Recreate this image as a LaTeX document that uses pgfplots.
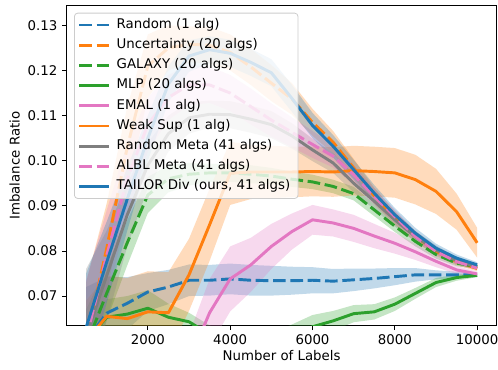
\documentclass[border=0pt]{standalone}
\usepackage{fontspec}
\setmainfont{DejaVu Sans}
\usepackage{pgfplots}
\usepackage{pgfplotstable}
\pgfplotsset{compat=1.18}
\usepgfplotslibrary{fillbetween}

\definecolor{tabblue}{HTML}{1F77B4}
\definecolor{taborange}{HTML}{FF7F0E}
\definecolor{tabgreen}{HTML}{2CA02C}
\definecolor{tabpink}{HTML}{E377C2}
\definecolor{tabgray}{HTML}{7F7F7F}

% mean (m) and standard deviation (s) of the imbalance ratio per label budget
\pgfplotstableread{
x m s
500 0.0600 0.012
1000 0.0662 0.008
1500 0.0684 0.0058
2000 0.0709 0.0042
2500 0.0720 0.0038
3000 0.0735 0.0035
3500 0.0735 0.0034
4000 0.0738 0.0034
4500 0.0735 0.0034
5000 0.0734 0.0033
5500 0.0734 0.0031
6000 0.0735 0.0029
6500 0.0733 0.0027
7000 0.0736 0.0025
7500 0.0739 0.0022
8000 0.0743 0.0019
8500 0.0747 0.0015
9000 0.0747 0.0010
9500 0.0747 0.0007
10000 0.0747 0.0005
}\tRandom

\pgfplotstableread{
x m s
500 0.0600 0.013
1000 0.0805 0.010
1500 0.1030 0.009
2000 0.1210 0.007
2500 0.1250 0.005
3000 0.1258 0.004
3500 0.1256 0.004
4000 0.1240 0.004
4500 0.1208 0.004
5000 0.1172 0.004
5500 0.1137 0.0035
6000 0.1085 0.003
6500 0.1041 0.0025
7000 0.0984 0.002
7500 0.0922 0.0018
8000 0.0873 0.0015
8500 0.0832 0.0012
9000 0.0799 0.0010
9500 0.0776 0.0008
10000 0.0761 0.0006
}\tUncert

\pgfplotstableread{
x m s
500 0.0590 0.008
1000 0.0706 0.006
1500 0.0818 0.005
2000 0.0924 0.004
2500 0.0960 0.003
3000 0.0970 0.0025
3500 0.0973 0.002
4000 0.0973 0.002
4500 0.0970 0.002
5000 0.0966 0.0018
5500 0.0959 0.0017
6000 0.0953 0.0016
6500 0.0943 0.0015
7000 0.0927 0.0015
7500 0.0891 0.0014
8000 0.0855 0.0013
8500 0.0821 0.0011
9000 0.0792 0.0009
9500 0.0773 0.0007
10000 0.0765 0.0005
}\tGalaxy

\pgfplotstableread{
x m s
500 0.0600 0.004
1000 0.0653 0.004
1500 0.0660 0.004
2000 0.0673 0.004
2500 0.0653 0.003
3000 0.0643 0.002
3500 0.0615 0.002
4000 0.0600 0.002
4500 0.0595 0.002
5000 0.0598 0.002
5500 0.0612 0.0025
6000 0.0632 0.0026
6500 0.0645 0.0022
7000 0.0661 0.0019
7500 0.0665 0.0017
8000 0.0682 0.0015
8500 0.0706 0.0012
9000 0.0730 0.0010
9500 0.0741 0.0007
10000 0.0746 0.0004
}\tMLP

\pgfplotstableread{
x m s
500 0.0500 0.005
1000 0.0500 0.005
1500 0.0500 0.005
2000 0.0500 0.005
2500 0.0510 0.005
3000 0.0555 0.006
3500 0.0663 0.0075
4000 0.0738 0.0072
4500 0.0769 0.006
5000 0.0810 0.005
5500 0.0843 0.004
6000 0.0869 0.0033
6500 0.0862 0.003
7000 0.0850 0.003
7500 0.0833 0.0027
8000 0.0817 0.0023
8500 0.0798 0.0018
9000 0.0777 0.0013
9500 0.0758 0.0009
10000 0.0749 0.0005
}\tEMAL

\pgfplotstableread{
x m s
500 0.0600 0.009
1000 0.0655 0.009
1500 0.0650 0.009
2000 0.0665 0.009
2500 0.0663 0.009
3000 0.0747 0.008
3500 0.0858 0.008
4000 0.0972 0.007
4500 0.0975 0.006
5000 0.0975 0.0058
5500 0.0975 0.0056
6000 0.0976 0.0055
6500 0.0975 0.0055
7000 0.0978 0.0055
7500 0.0976 0.0055
8000 0.0973 0.0055
8500 0.0958 0.0055
9000 0.0932 0.005
9500 0.0887 0.004
10000 0.0818 0.0033
}\tWeak

\pgfplotstableread{
x m s
500 0.0610 0.015
1000 0.0745 0.010
1500 0.0880 0.007
2000 0.0990 0.005
2500 0.1060 0.004
3000 0.1095 0.0035
3500 0.1103 0.003
4000 0.1102 0.003
4500 0.1092 0.003
5000 0.1080 0.003
5500 0.1055 0.0028
6000 0.1024 0.0025
6500 0.0995 0.0022
7000 0.0950 0.0020
7500 0.0910 0.0018
8000 0.0869 0.0015
8500 0.0832 0.0012
9000 0.0802 0.0010
9500 0.0778 0.0008
10000 0.0765 0.0006
}\tRMeta

\pgfplotstableread{
x m s
500 0.0605 0.013
1000 0.0790 0.010
1500 0.0960 0.008
2000 0.1080 0.006
2500 0.1140 0.005
3000 0.1168 0.0045
3500 0.1168 0.004
4000 0.1150 0.004
4500 0.1120 0.004
5000 0.1090 0.0037
5500 0.1063 0.0033
6000 0.1036 0.003
6500 0.1010 0.0025
7000 0.0969 0.0022
7500 0.0921 0.0018
8000 0.0876 0.0015
8500 0.0832 0.0012
9000 0.0799 0.0009
9500 0.0776 0.0007
10000 0.0762 0.0005
}\tALBL

\pgfplotstableread{
x m s
500 0.0630 0.012
1000 0.0775 0.009
1500 0.0915 0.007
2000 0.1050 0.005
2500 0.1170 0.004
3000 0.1232 0.0035
3500 0.1246 0.003
4000 0.1238 0.003
4500 0.1218 0.003
5000 0.1195 0.003
5500 0.1138 0.003
6000 0.1078 0.0028
6500 0.1032 0.0025
7000 0.0980 0.0022
7500 0.0928 0.0018
8000 0.0880 0.0015
8500 0.0839 0.0012
9000 0.0806 0.0010
9500 0.0784 0.0008
10000 0.0769 0.0006
}\tTailor

% shaded +/- one standard deviation band
\newcommand{\band}[3]{%
  \addplot[draw=none, forget plot, name path=#2hi] table[x=x, y expr=\thisrow{m}+\thisrow{s}] {#1};
  \addplot[draw=none, forget plot, name path=#2lo] table[x=x, y expr=\thisrow{m}-\thisrow{s}] {#1};
  \addplot[fill=#3, fill opacity=0.28, draw=none, forget plot] fill between[of=#2hi and #2lo];
}
% legend text set in a fixed-width, left-aligned box
\newcommand{\lgtext}[1]{\makebox[133.5pt][l]{#1}}

\begin{document}
\begin{tikzpicture}
\begin{axis}[
  scale only axis,
  width=322.65pt, height=240.15pt,
  xmin=25, xmax=10475,
  ymin=0.06342, ymax=0.13439,
  xtick={2000,4000,6000,8000,10000},
  ytick={0.07,0.08,0.09,0.10,0.11,0.12,0.13},
  scaled y ticks=false,
  scaled x ticks=false,
  xticklabel style={/pgf/number format/1000 sep={}},
  yticklabel style={/pgf/number format/.cd, fixed, fixed zerofill, precision=2},
  /pgf/number format/assume math mode=true,
  tick pos=left,
  tick align=outside,
  major tick length=3.3pt,
  every tick/.style={black, line width=0.6pt},
  axis line style={black, line width=0.6pt},
  tick label style={font=\fontsize{10}{12}\selectfont},
  xlabel={Number of Labels},
  ylabel={Imbalance Ratio},
  label style={font=\fontsize{10}{12}\selectfont},
  xlabel style={at={(axis description cs:0.5,-0.0758)}, anchor=north, inner sep=0pt},
  ylabel style={at={(axis description cs:-0.1082,0.5)}, anchor=south, inner sep=0pt},
  legend cell align=left,
  legend style={
    at={(axis description cs:0.0174,0.9775)}, anchor=north west,
    draw=black!20, line width=0.6pt, rounded corners=2.5pt,
    fill=white, fill opacity=0.8, text opacity=1,
    inner xsep=2.5pt, inner ysep=4pt,
    row sep=5.35pt, column sep=5pt,
    font=\fontsize{10}{12}\selectfont,
    nodes={inner sep=0pt, text height=7.4pt, text depth=2.4pt},
  },
  legend image code/.code={\draw[#1] (0pt,0pt) -- (22pt,0pt);},
  every axis plot/.append style={line width=2.2pt, line join=round},
  dashstyle/.style={dash pattern=on 9.5pt off 3.5pt},
]
\band{\tRandom}{ra}{tabblue}
\addplot[tabblue, dashstyle] table[x=x, y=m] {\tRandom};
\addlegendentry{\lgtext{Random (1 alg)}}

\band{\tUncert}{un}{taborange}
\addplot[taborange, dashstyle] table[x=x, y=m] {\tUncert};
\addlegendentry{\lgtext{Uncertainty (20 algs)}}

\band{\tGalaxy}{ga}{tabgreen}
\addplot[tabgreen, dashstyle] table[x=x, y=m] {\tGalaxy};
\addlegendentry{\lgtext{GALAXY (20 algs)}}

\band{\tMLP}{ml}{tabgreen}
\addplot[tabgreen] table[x=x, y=m] {\tMLP};
\addlegendentry{\lgtext{MLP (20 algs)}}

\band{\tEMAL}{em}{tabpink}
\addplot[tabpink] table[x=x, y=m] {\tEMAL};
\addlegendentry{\lgtext{EMAL (1 alg)}}

\band{\tWeak}{we}{taborange}
\addplot[taborange] table[x=x, y=m] {\tWeak};
\addlegendentry{\lgtext{Weak Sup (1 alg)}}

\band{\tRMeta}{rm}{tabgray}
\addplot[tabgray] table[x=x, y=m] {\tRMeta};
\addlegendentry{\lgtext{Random Meta (41 algs)}}

\band{\tALBL}{al}{tabpink}
\addplot[tabpink, dashstyle] table[x=x, y=m] {\tALBL};
\addlegendentry{\lgtext{ALBL Meta (41 algs)}}

\band{\tTailor}{ta}{tabblue}
\addplot[tabblue] table[x=x, y=m] {\tTailor};
\addlegendentry{\lgtext{TAILOR Div (ours, 41 algs)}}
\end{axis}
\pgfresetboundingbox
\path[use as bounding box] (-49.9pt,-32.5pt) rectangle (323.6pt,244.3pt);
\end{tikzpicture}
\end{document}
